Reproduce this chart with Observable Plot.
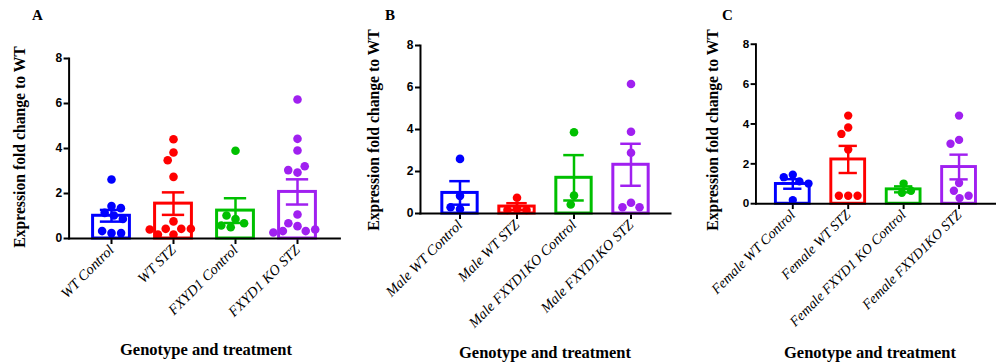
<!DOCTYPE html>
<html>
<head>
<meta charset="utf-8">
<script src="https://cdn.jsdelivr.net/npm/d3@7"></script>
<script src="https://cdn.jsdelivr.net/npm/@observablehq/plot@0.6"></script>
<style>
html, body { margin: 0; padding: 0; background: #fff; }
#wrap { position: relative; width: 996px; height: 362px; overflow: hidden; background: #fff; }
.panel { position: absolute; top: 0; }
.letter { position: absolute; font: bold 15px "Liberation Serif", "Times New Roman", serif; line-height: 1; }
.ylab { position: absolute; font: bold 15.7px "Liberation Serif", "Times New Roman", serif; line-height: 1; white-space: nowrap; transform: translate(-50%, -50%) rotate(-90deg); }
.xlab { position: absolute; font: bold 16.5px "Liberation Serif", "Times New Roman", serif; line-height: 1; white-space: nowrap; transform: translate(-50%, -50%); }
.panel g[aria-label="y-axis tick label"] { font: bold 12px "Liberation Sans", Arial, sans-serif; }
.panel g[aria-label="fx-axis tick label"] { font: italic 14.5px "Liberation Serif", "Times New Roman", serif; }
.panel g[aria-label="y-axis tick"], .panel g[aria-label="fx-axis tick"] { stroke-width: 2px; }
</style>
</head>
<body>
<div id="wrap"></div>
<script>
const colors = ["#0000ff", "#ff0000", "#00c000", "#a020f0"];

const catsA = ["WT Control", "WT STZ", "FXYD1 Control", "FXYD1 KO STZ"];
const meansA = [1.01, 1.55, 1.24, 2.07];
const semsA = [0.26, 0.50, 0.55, 0.56];
const pointsA = [
  [2.62, 1.44, 1.14, 1.35, 1.02, 0.87, 0.24, 0.33, 0.24],
  [4.41, 3.82, 3.48, 2.74, 0.76, 0.18, 0.43, 0.43, 0.43, 0.18, 0.40],
  [3.90, 0.87, 1.02, 0.68, 0.50, 0.58],
  [6.18, 4.43, 3.91, 2.93, 3.04, 3.21, 1.07, 0.55, 0.68, 0.33, 0.33, 0.40, 0.27]
];

const catsB = ["Male WT Control", "Male WT STZ", "Male FXYD1KO Control", "Male FXYD1KO STZ"];
const meansB = [0.98, 0.33, 1.70, 2.32];
const semsB = [0.56, 0.16, 1.08, 1.00];
const pointsB = [
  [2.60, 0.84, 0.21, 0.30],
  [0.75, 0.22, 0.17, 0.17],
  [3.87, 0.86, 0.43],
  [6.17, 3.89, 2.89, 0.51, 0.30, 0.30]
];

const catsC = ["Female WT Control", "Female WT STZ", "Female FXYD1 KO Control", "Female FXYD1KO STZ"];
const meansC = [0.99, 2.22, 0.72, 1.84];
const semsC = [0.24, 0.68, 0.15, 0.62];
const pointsC = [
  [1.45, 1.33, 1.12, 1.01, 0.18],
  [4.42, 3.82, 3.50, 2.72, 0.40, 0.40, 0.40],
  [1.01, 0.55, 0.65],
  [4.42, 3.20, 3.01, 1.04, 0.65, 0.28, 0.40]
];

const yTicks = [0, 2, 4, 6, 8];

function panel(cats, means, sems, points, cfg) {
  const bars = cats.map((c, i) => ({cat: c, mean: means[i], lo: means[i] - sems[i], hi: means[i] + sems[i], color: colors[i]}));
  const dots = cats.flatMap((c, i) => points[i].map(v => ({cat: c, v, color: colors[i]})));
  const b0 = 0.5 - cfg.bar / 2, b1 = 0.5 + cfg.bar / 2;
  const c0 = 0.5 - cfg.cap / 2, c1 = 0.5 + cfg.cap / 2;
  const inner = cfg.width - cfg.ml;
  const outerPx = inner / (cats.length + 2 * cfg.po) * cfg.po;
  const svg = Plot.plot({
    width: cfg.width,
    height: 362,
    marginLeft: cfg.ml,
    marginRight: 0,
    marginTop: cfg.mt,
    marginBottom: cfg.mb,
    style: {background: "transparent", overflow: "visible", fontFamily: "'Liberation Sans', Arial, sans-serif", fontSize: "12px", color: "#000"},
    fx: {domain: cats, paddingInner: 0, paddingOuter: cfg.po, label: null, tickRotate: -45, tickSize: 6, tickPadding: 3},
    x: {domain: [0, 1], axis: null},
    y: {domain: [0, 8], axis: null},
    color: {type: "identity"},
    marks: [
      Plot.rectY(bars, {fx: "cat", x1: b0, x2: b1, y1: 0, y2: "mean", fill: "white", stroke: "color", strokeWidth: 3}),
      Plot.dot(dots, Plot.dodgeX("middle", {fx: "cat", y: "v", r: 4.3, fill: "color", padding: cfg.pad})),
      Plot.ruleX(bars, {fx: "cat", x: 0.5, y1: "lo", y2: "hi", stroke: "color", strokeWidth: 2.5}),
      Plot.ruleY(bars, {fx: "cat", y: "hi", x1: c0, x2: c1, stroke: "color", strokeWidth: 2.5}),
      Plot.ruleY(bars, {fx: "cat", y: "lo", x1: c0, x2: c1, stroke: "color", strokeWidth: 2.5}),
      Plot.axisY({ticks: yTicks, tickSize: 5, tickPadding: 2, label: null, dx: -outerPx}),
      Plot.frame({facet: "super", anchor: "left", stroke: "black", strokeWidth: 2, insetLeft: -outerPx}),
      Plot.frame({facet: "super", anchor: "bottom", stroke: "black", strokeWidth: 2, insetLeft: -outerPx, insetRight: -outerPx})
    ]
  });
  const div = document.createElement("div");
  div.className = "panel";
  div.style.left = cfg.left + "px";
  div.appendChild(svg);
  return div;
}

const wrap = document.getElementById("wrap");
wrap.appendChild(panel(catsA, meansA, semsA, pointsA, {left: 0, width: 340, ml: 68, mt: 58, mb: 124, po: 0.183, bar: 0.594, cap: 0.36, pad: 2.5}));
wrap.appendChild(panel(catsB, meansB, semsB, pointsB, {left: 340, width: 332, ml: 78, mt: 45, mb: 149, po: 0.19, bar: 0.62, cap: 0.36, pad: 5}));
wrap.appendChild(panel(catsC, meansC, semsC, pointsC, {left: 680, width: 325, ml: 77, mt: 45, mb: 153, po: 0.164, bar: 0.61, cap: 0.33, pad: 6}));

function addText(cls, text, x, y) {
  const d = document.createElement("div");
  d.className = cls;
  d.textContent = text;
  d.style.left = x + "px";
  d.style.top = y + "px";
  wrap.appendChild(d);
}
addText("letter", "A", 32, 8);
addText("letter", "B", 385, 8);
addText("letter", "C", 722, 8);
addText("ylab", "Expression fold change to WT", 20, 147);
addText("ylab", "Expression fold change to WT", 374, 130);
addText("ylab", "Expression fold change to WT", 713, 130);
addText("xlab", "Genotype and treatment", 206, 350);
addText("xlab", "Genotype and treatment", 545, 353);
addText("xlab", "Genotype and treatment", 870, 353);
</script>
</body>
</html>
